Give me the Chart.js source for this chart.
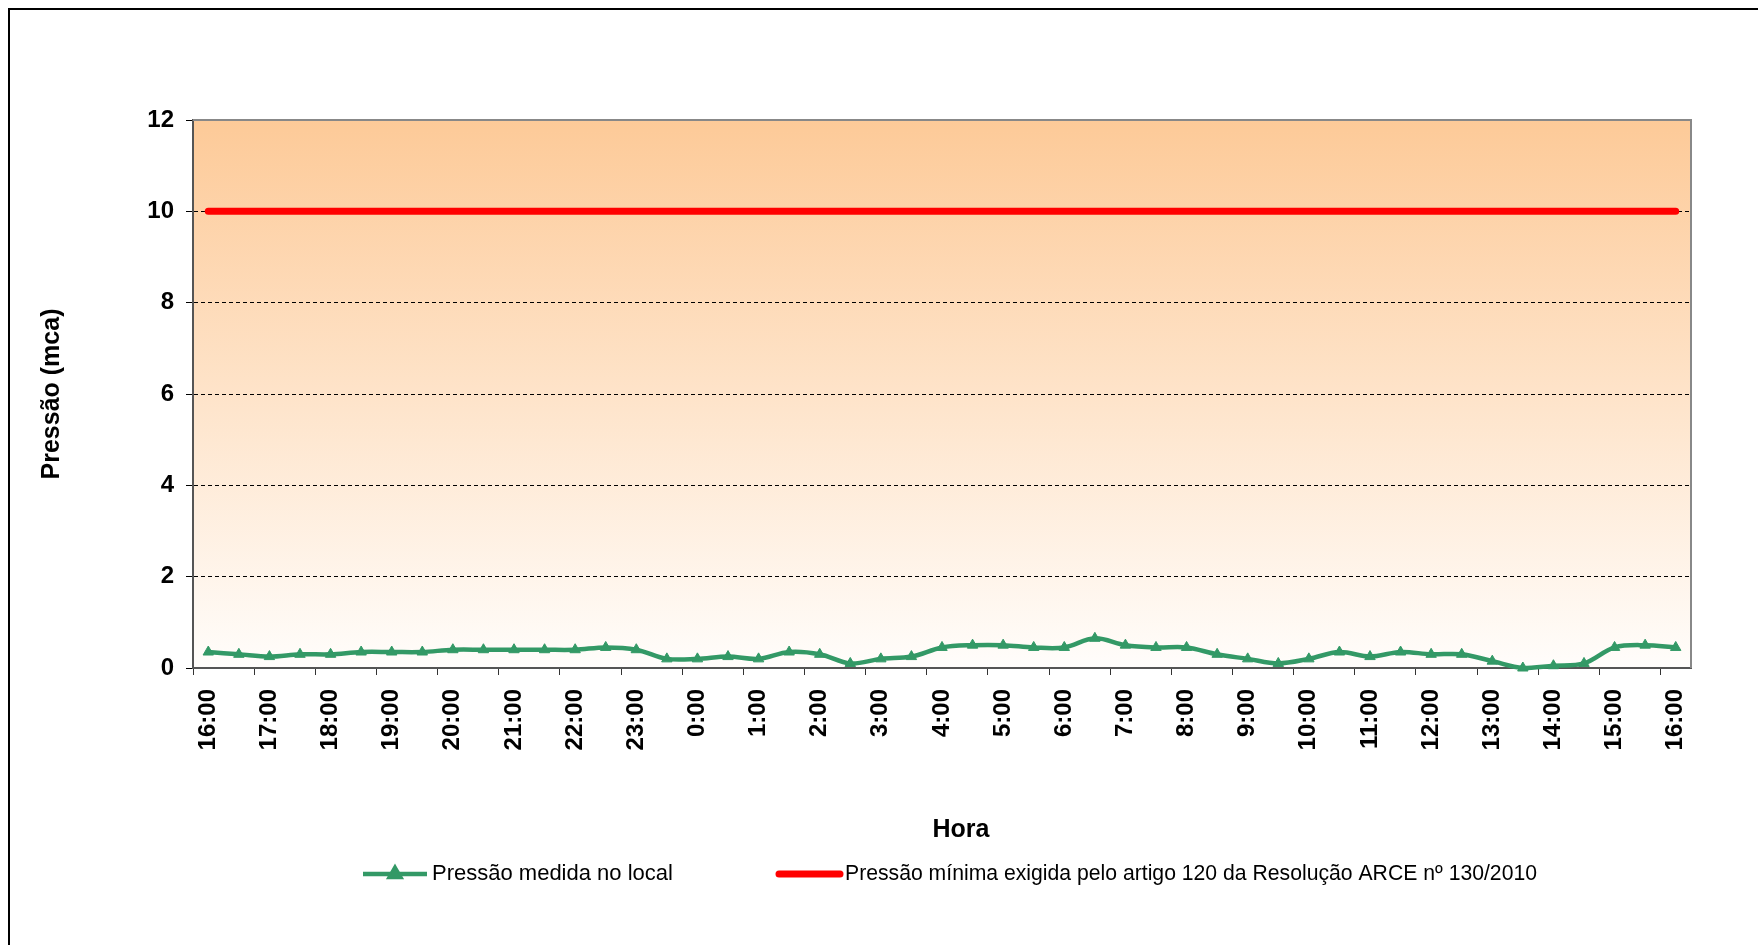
<!DOCTYPE html>
<html>
<head>
<meta charset="utf-8">
<title>Pressão medida no local</title>
<script src="https://cdn.jsdelivr.net/npm/chart.js@4.4.1/dist/chart.umd.min.js"></script>
<style>
    html, body { margin: 0; padding: 0; background: #fff; }
    #wrap { width: 1758px; height: 945px; }
</style>
</head>
<body>
<div id="wrap"><canvas id="pressureChart" width="1758" height="945"></canvas></div>
<script>
// Horas (leituras a cada 30 min)
const hours = [
    '16:00', '16:30', '17:00', '17:30', '18:00', '18:30', '19:00', '19:30',
    '20:00', '20:30', '21:00', '21:30', '22:00', '22:30', '23:00', '23:30',
    '0:00', '0:30', '1:00', '1:30', '2:00', '2:30', '3:00', '3:30',
    '4:00', '4:30', '5:00', '5:30', '6:00', '6:30', '7:00', '7:30',
    '8:00', '8:30', '9:00', '9:30', '10:00', '10:30', '11:00', '11:30',
    '12:00', '12:30', '13:00', '13:30', '14:00', '14:30', '15:00', '15:30',
    '16:00'
];

// Pressão medida no local (mca)
const measured = [
    0.35, 0.3, 0.25, 0.3, 0.3, 0.35, 0.35, 0.35,
    0.4, 0.4, 0.4, 0.4, 0.4, 0.45, 0.4, 0.2,
    0.2, 0.25, 0.2, 0.35, 0.3, 0.1, 0.2, 0.25,
    0.45, 0.5, 0.5, 0.45, 0.45, 0.65, 0.5, 0.45,
    0.45, 0.3, 0.2, 0.1, 0.2, 0.35, 0.25, 0.35,
    0.3, 0.3, 0.15, 0, 0.05, 0.1, 0.45, 0.5,
    0.45
];

// Pressão mínima exigida (mca)
const minimum = [
    10, 10, 10, 10, 10, 10, 10, 10,
    10, 10, 10, 10, 10, 10, 10, 10,
    10, 10, 10, 10, 10, 10, 10, 10,
    10, 10, 10, 10, 10, 10, 10, 10,
    10, 10, 10, 10, 10, 10, 10, 10,
    10, 10, 10, 10, 10, 10, 10, 10,
    10
];

const seriesNames = [
    'Pressão medida no local',
    'Pressão mínima exigida pelo artigo 120 da Resolução ARCE nº 130/2010'
];

const yTicks = [0, 2, 4, 6, 8, 10, 12];

const GREEN = '#339966';
const RED = '#ff0000';

Chart.defaults.font.family = "'Liberation Sans', Arial, sans-serif";
Chart.defaults.color = '#000';

// fundo: branco, moldura externa e gradiente da area de plotagem
const backgroundPlugin = {
    id: 'background',
    beforeDraw(chart) {
        const { ctx, chartArea: a } = chart;
        ctx.save();
        ctx.fillStyle = '#fff';
        ctx.fillRect(0, 0, chart.width, chart.height);
        ctx.strokeStyle = '#000';
        ctx.lineWidth = 2;
        ctx.strokeRect(9, 9, chart.width + 50, chart.height + 50);
        const g = ctx.createLinearGradient(0, a.top, 0, a.bottom);
        g.addColorStop(0, '#fdca98');
        g.addColorStop(1, '#fffdfb');
        ctx.fillStyle = g;
        ctx.fillRect(a.left, a.top, a.right - a.left, a.bottom - a.top);
        ctx.restore();
    },
    afterDraw(chart) {
        // borda superior e direita da area de plotagem
        const { ctx, chartArea: a } = chart;
        ctx.save();
        ctx.strokeStyle = '#888';
        ctx.lineWidth = 2;
        ctx.beginPath();
        ctx.moveTo(a.left, a.top);
        ctx.lineTo(a.right, a.top);
        ctx.lineTo(a.right, a.bottom);
        ctx.stroke();
        ctx.restore();
    }
};

// titulo do eixo X e legenda desenhados na posicao do original
const legendPlugin = {
    id: 'customLegend',
    afterDraw(chart, args, opts) {
        const { ctx } = chart;
        const family = Chart.defaults.font.family;
        ctx.save();

        ctx.font = 'bold 25px ' + family;
        ctx.textAlign = 'center';
        ctx.textBaseline = 'middle';
        ctx.fillStyle = '#000';
        ctx.fillText(opts.xTitle.text, opts.xTitle.x, opts.xTitle.y);

        ctx.font = '22px ' + family;
        ctx.textAlign = 'left';
        opts.items.forEach((item, i) => {
            const ds = chart.data.datasets[i];
            ctx.strokeStyle = ds.borderColor;
            ctx.lineWidth = ds.borderWidth;
            ctx.lineCap = i === 1 ? 'round' : 'butt';
            ctx.beginPath();
            ctx.moveTo(item.x, opts.y);
            ctx.lineTo(item.x + item.w, opts.y);
            ctx.stroke();
            if (ds.pointRadius > 0) {
                Chart.helpers.drawPoint(ctx, {
                    pointStyle: ds.pointStyle,
                    radius: ds.pointRadius,
                    borderWidth: 1,
                    rotation: 0
                }, item.x + item.w / 2, opts.y);
                ctx.fillStyle = ds.pointBackgroundColor;
                ctx.fill();
            }
            ctx.fillStyle = '#000';
            ctx.fillText(ds.label, item.x + item.w + 5, opts.y, item.textWidth);
        });
        ctx.restore();
    }
};

const ctx = document.getElementById('pressureChart').getContext('2d');
const chart = new Chart(ctx, {
    type: 'line',
    data: {
        labels: hours,
        datasets: [{
            label: seriesNames[0],
            data: measured,
            borderColor: GREEN,
            backgroundColor: GREEN,
            pointBackgroundColor: GREEN,
            pointBorderColor: GREEN,
            pointStyle: 'triangle',
            pointRadius: 6,
            pointBorderWidth: 1,
            borderWidth: 4.5,
            tension: 0.35,
            clip: false,
            fill: false
        }, {
            label: seriesNames[1],
            data: minimum,
            borderColor: RED,
            backgroundColor: RED,
            borderWidth: 7,
            borderCapStyle: 'round',
            pointRadius: 0,
            tension: 0,
            fill: false
        }]
    },
    options: {
        responsive: false,
        animation: false,
        events: [],
        layout: {
            padding: { left: 10, top: 120, right: 67, bottom: 0 }
        },
        scales: {
            x: {
                offset: true,
                grid: {
                    offset: true,
                    drawOnChartArea: false,
                    tickLength: 7,
                    tickWidth: 1,
                    tickColor: (c) => (c.index % 2 === 0 ? '#333' : 'rgba(0,0,0,0)')
                },
                border: { color: '#555', width: 2 },
                ticks: {
                    autoSkip: false,
                    maxRotation: 90,
                    minRotation: 90,
                    padding: 14,
                    font: { size: 24, weight: 'bold' },
                    callback: function (value, index) {
                        return index % 2 === 0 ? this.getLabelForValue(value) : '';
                    }
                },
                title: { display: false, text: 'Hora' },
                afterFit(scale) {
                    scale.height = 277;
                }
            },
            y: {
                min: 0,
                max: 12,
                afterBuildTicks(scale) {
                    scale.ticks = yTicks.map(v => ({ value: v }));
                },
                grid: {
                    color: (c) => (c.tick && (c.tick.value === 0 || c.tick.value === 12) ? 'rgba(0,0,0,0)' : '#000'),
                    lineWidth: 1,
                    tickLength: 7,
                    tickColor: '#000',
                    tickBorderDash: []
                },
                border: { color: '#555', width: 2, dash: [4, 3] },
                ticks: {
                    padding: 12,
                    font: { size: 24, weight: 'bold' }
                },
                title: {
                    display: true,
                    text: 'Pressão (mca)',
                    font: { size: 25, weight: 'bold' },
                    padding: { top: 27, bottom: 0 }
                },
                afterFit(scale) {
                    scale.width = 183;
                }
            }
        },
        plugins: {
            legend: { display: false },
            tooltip: { enabled: false },
            customLegend: {
                y: 874,
                xTitle: { text: 'Hora', x: 961, y: 830 },
                items: [
                    { x: 363, w: 64, textWidth: 245 },
                    { x: 779, w: 61, textWidth: 692 }
                ]
            }
        }
    },
    plugins: [backgroundPlugin, legendPlugin]
});
</script>
</body>
</html>
